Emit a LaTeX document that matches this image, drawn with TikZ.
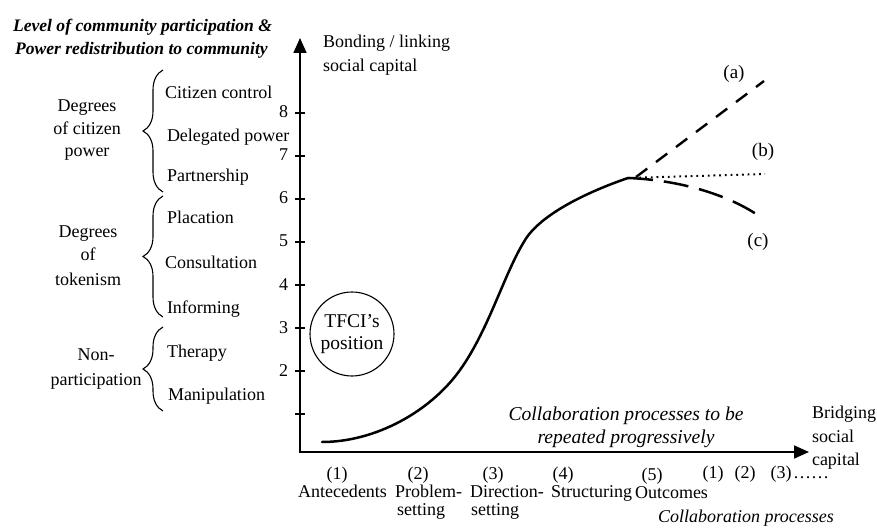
\documentclass[tikz,border=0pt]{standalone}
\usepackage{fontspec}
\setmainfont{Liberation Serif}
\usetikzlibrary{arrows.meta,decorations.pathreplacing}
\begin{document}
\begin{tikzpicture}[x=1pt,y=-1pt,
  every node/.style={inner sep=0pt, outer sep=0pt},
  txt/.style={font=\fontsize{18}{22}\selectfont},
  itx/.style={font=\fontsize{18}{22}\selectfont\itshape},
  bitx/.style={font=\fontsize{17.6}{22}\selectfont\bfseries\itshape},
  bigitx/.style={font=\fontsize{19.6}{23}\selectfont\itshape},
  lab/.style={font=\fontsize{19}{22}\selectfont},
  axisline/.style={line width=1.7pt, {Triangle[length=15pt,width=13pt]}-{Triangle[length=15pt,width=13pt]}},
  tickline/.style={line width=1.4pt},
  brc/.style={decorate, decoration={brace, amplitude=20pt}, line width=1.1pt},
  curveline/.style={line width=2.5pt, line cap=round},
  dasha/.style={line width=2.4pt, dash pattern=on 14pt off 11pt},
  dotb/.style={line width=2pt, dash pattern=on 1.8pt off 3.9pt},
  dashc/.style={line width=2.5pt, dash pattern=on 25pt off 11pt},
  ]
\useasboundingbox (0,0) rectangle (877,529);

% title of the left scale
\node[bitx, anchor=base west] (lvl1) at (13,32) {Level of community participation \&};
\node[bitx, anchor=base west] (lvl2) at (15,55) {Power redistribution to community};

% ladder rungs
\node[txt, anchor=base west] (r8) at (165,99) {Citizen control};
\node[txt, anchor=base west] (r7) at (167,142) {Delegated power};
\node[txt, anchor=base west] (r6) at (167,182) {Partnership};
\node[txt, anchor=base west] (r5) at (167,223) {Placation};
\node[txt, anchor=base west] (r4) at (165,268) {Consultation};
\node[txt, anchor=base west] (r3) at (167,313) {Informing};
\node[txt, anchor=base west] (r2) at (167,357) {Therapy};
\node[txt, anchor=base west] (r1) at (168,400) {Manipulation};

% group labels
\node[txt, anchor=base] (g1a) at (87,112) {Degrees};
\node[txt, anchor=base] (g1b) at (87,135) {of citizen};
\node[txt, anchor=base] (g1c) at (87,157) {power};
\node[txt, anchor=base] (g2a) at (88,237) {Degrees};
\node[txt, anchor=base] (g2b) at (88,260) {of};
\node[txt, anchor=base] (g2c) at (88,285) {tokenism};
\node[txt, anchor=base] (g3a) at (96,360) {Non-};
\node[txt, anchor=base] (g3b) at (96,385) {participation};

% braces
\coordinate (b1s) at (163,192); \coordinate (b1e) at (163,70);
\coordinate (b2s) at (163,317); \coordinate (b2e) at (163,196);
\coordinate (b3s) at (163,411); \coordinate (b3e) at (163,327);
\draw[brc] (b1s) -- (b1e);
\draw[brc] (b2s) -- (b2e);
\draw[brc] (b3s) -- (b3e);

% axes
\coordinate (O) at (300,452);
\coordinate (Ytop) at (300,38);
\coordinate (Xend) at (809,452);
\draw[axisline] (Ytop) -- (O) -- (Xend);

% ticks and tick labels
\foreach \k/\yy in {1/414,2/371,3/328,4/285,5/242,6/199,7/156,8/113}{
  \coordinate (tk\k) at (300,\yy);
  \draw[tickline] ([xshift=-5pt]tk\k) -- ([xshift=5pt]tk\k);
}
\foreach \k/\yy in {2/376,3/333,4/290,5/247,6/204,7/161,8/118}{
  \node[txt, anchor=base east] (tl\k) at (288,\yy) {\k};
}

% y-axis title
\node[txt, anchor=base west] (yt1) at (323,48) {Bonding / linking};
\node[txt, anchor=base west] (yt2) at (323,72) {social capital};

% TFCI circle
\node[draw, circle, line width=1.1pt, minimum size=84pt, align=center,
      font=\fontsize{19.5}{22}\selectfont] (tfci) at (352,334) {TFCI’s\\position};

% main curve
\coordinate (P0) at (322,442);
\coordinate (P1) at (460,370);
\coordinate (P2) at (527,237);
\coordinate (J) at (628,178);
\draw[curveline] (P0) .. controls (375,442) and (430,412) .. (P1)
                      .. controls (490,328) and (505,270) .. (P2)
                      .. controls (545,212) and (590,191) .. (J);

% scenarios
\coordinate (Ja) at (636,177);
\coordinate (A) at (764,81);
\coordinate (B) at (765,174);
\coordinate (C) at (762,218);
\draw[dasha] (Ja) -- (A);
\draw[dotb] (J) -- (B);
\draw[dashc] (J) .. controls (680,180) and (730,195) .. (C);
\node[lab, anchor=base] (la) at (734,79) {(a)};
\node[lab, anchor=base] (lb) at (763,157) {(b)};
\node[lab, anchor=base] (lc) at (758,247) {(c)};

% repeated processes note
\node[bigitx, anchor=base] (rep1) at (626,420) {Collaboration processes to be};
\node[bigitx, anchor=base] (rep2) at (626,443) {repeated progressively};

% x-axis title
\node[txt, anchor=base west] (xt1) at (812,418) {Bridging};
\node[txt, anchor=base west] (xt2) at (812,442) {social};
\node[txt, anchor=base west] (xt3) at (812,465) {capital};

% stages
\node[txt, anchor=base] (s1n) at (337,479) {(1)};
\node[txt, anchor=base] (s1) at (342.5,497) {Antecedents};
\node[txt, anchor=base] (s2n) at (418,479) {(2)};
\node[txt, anchor=base west] (s2) at (395,497) {Problem-};
\node[txt, anchor=base west] (s2b) at (397,515) {setting};
\node[txt, anchor=base] (s3n) at (493,479) {(3)};
\node[txt, anchor=base west] (s3) at (470,497) {Direction-};
\node[txt, anchor=base west] (s3b) at (471,515) {setting};
\node[txt, anchor=base] (s4n) at (563,479) {(4)};
\node[txt, anchor=base west] (s4) at (551,497) {Structuring};
\node[txt, anchor=base] (s5n) at (652,480) {(5)};
\node[txt, anchor=base west] (s5) at (635,498) {Outcomes};
\node[txt, anchor=base] (c1) at (713,478) {(1)};
\node[txt, anchor=base] (c2) at (745,478) {(2)};
\node[txt, anchor=base] (c3) at (781,478) {(3)};
\node[txt, anchor=base west] (cdots) at (793,478) {……};
\node[itx, anchor=base west] (cp) at (658,522) {Collaboration processes};
\end{tikzpicture}
\end{document}
